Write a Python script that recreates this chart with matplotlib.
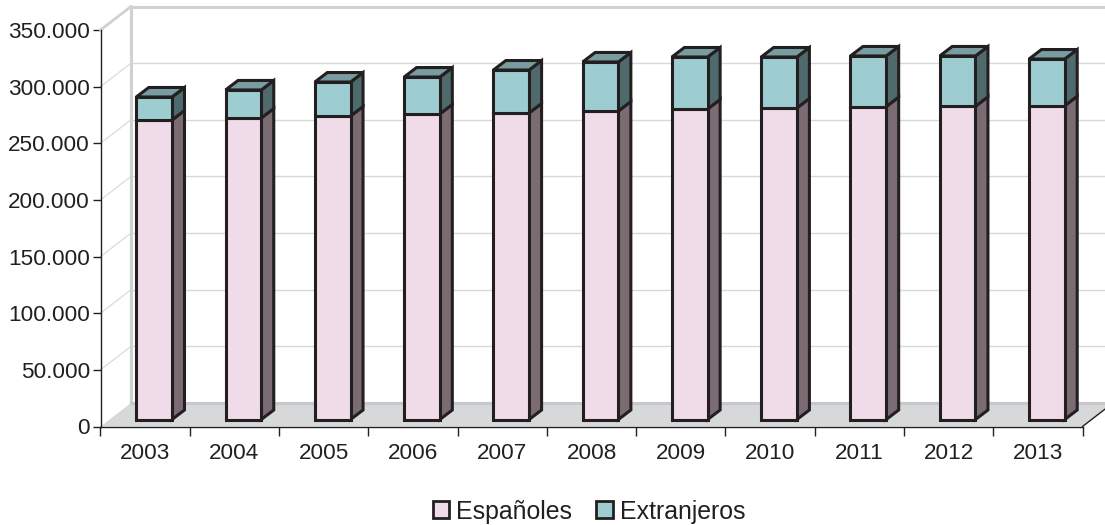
import matplotlib
matplotlib.use('Agg')
import matplotlib.pyplot as plt
from matplotlib.patches import Patch
from matplotlib.transforms import Affine2D

years = ['2003', '2004', '2005', '2006', '2007', '2008', '2009', '2010', '2011', '2012', '2013']
espanoles = [264400, 266200, 267900, 269700, 270600, 272300, 274100, 275000, 276200, 276500, 277000]
extranjeros = [20300, 24700, 30000, 32600, 37900, 43300, 45900, 45000, 44700, 44400, 41200]
yticks = [0, 50000, 100000, 150000, 200000, 250000, 300000, 350000]
ylabels = ['0', '50.000', '100.000', '150.000', '200.000', '250.000', '300.000', '350.000']

plt.rcParams['font.family'] = ['Liberation Sans', 'DejaVu Sans']
dark = '#231f20'
grid = '#d6d8d9'

fig = plt.figure(figsize=(11.05, 5.25), dpi=100)
ax = fig.add_axes([100.5 / 1105, (525 - 426.5) / 525, 982 / 1105, 396.5 / 525])
ax.set_xlim(-0.5, 10.5)
ax.set_ylim(0, 350000)
ax.patch.set_visible(False)

def shift(dx, dy):  # same data scale, moved by some pixels (the fake 3D depth)
    return ax.transData + Affine2D().translate(dx, dy)

# depth of the box in data units
x_floor = 30.5 / 89.27
y_floor = 23.5 * 350000 / 396.5

# back wall and floor
back = shift(30.5, 23.5)
for t in yticks[1:-1]:
    ax.plot([-0.5, 10.5], [t, t], color=grid, lw=1, transform=back, clip_on=False, zorder=1)
    ax.plot([-0.5, -0.5 + x_floor], [t, t + y_floor], color=grid, lw=0.8, clip_on=False, zorder=1)
ax.plot([-0.5, -0.5], [0, 350000], color='#cfd1d2', lw=2.2, transform=back, clip_on=False, zorder=2)
ax.plot([-0.5, 10.5], [350000, 350000], color='#cfd1d2', lw=2.2, transform=back, clip_on=False, zorder=2)
ax.plot([-0.5, -0.5 + x_floor], [350000, 350000 + y_floor], color='#cfd1d2', lw=2, clip_on=False, zorder=2)

ax.fill([-0.5, 10.5, 10.5 + x_floor, -0.5 + x_floor], [0, 0, y_floor, y_floor],
        color='#d6d8d9', lw=0, clip_on=False, zorder=1.5)
ax.plot([-0.5 + x_floor, 10.5 + x_floor], [y_floor, y_floor], color='#c6c8c9', lw=2.2,
        clip_on=False, zorder=2)
ax.plot([10.5, 10.5 + x_floor], [0, y_floor], color=dark, lw=1, clip_on=False, zorder=2)

# bars
front = shift(9, 7)
width = 0.4
depth_x = 12.5 / 89.27
depth_y = 9.5 * 350000 / 396.5
edge = dict(edgecolor=dark, linewidth=2.2, joinstyle='miter', clip_on=False, transform=front)

for i, year in enumerate(years):
    x0 = i - width / 2
    x1 = i + width / 2
    low = espanoles[i]
    top = low + extranjeros[i]
    ax.fill([x1, x1 + depth_x, x1 + depth_x, x1], [0, depth_y, low + depth_y, low],
            facecolor='#7b6c74', zorder=3, **edge)
    ax.fill([x1, x1 + depth_x, x1 + depth_x, x1], [low, low + depth_y, top + depth_y, top],
            facecolor='#4f6a6d', zorder=3, **edge)
    ax.fill([x0, x1, x1 + depth_x, x0 + depth_x], [top, top, top + depth_y, top + depth_y],
            facecolor='#789c9f', zorder=3, **edge)

ax.bar(range(len(years)), espanoles, width=width, color='#f0dce8', zorder=4, **edge)
ax.bar(range(len(years)), extranjeros, width=width, bottom=espanoles, color='#9dcdd1', zorder=4, **edge)

# axes
for s in ['top', 'right']:
    ax.spines[s].set_visible(False)
for s in ['left', 'bottom']:
    ax.spines[s].set_color(dark)
    ax.spines[s].set_linewidth(1)
    ax.spines[s].set_zorder(5)

ax.set_yticks(yticks)
ax.set_yticklabels(ylabels)
ax.set_xticks([i - 0.5 for i in range(12)])
ax.set_xticklabels([])
ax.set_xticks(range(len(years)), years, minor=True)
ax.tick_params(axis='y', length=6, width=1, color=dark, labelsize=16.2, labelcolor=dark, pad=1.5)
ax.tick_params(axis='x', which='major', length=6.5, width=1, color=dark)
ax.tick_params(axis='x', which='minor', length=0, labelsize=16.2, labelcolor=dark, pad=12)

handles = [Patch(facecolor='#f0dce8', edgecolor=dark, linewidth=2, label='Españoles'),
           Patch(facecolor='#9dcdd1', edgecolor=dark, linewidth=2, label='Extranjeros')]
fig.legend(handles=handles, loc='center', bbox_to_anchor=(589 / 1105, 1 - 511.5 / 525), ncol=2,
           frameon=False, fontsize=17.9, labelcolor=dark, handlelength=0.66, handleheight=0.66,
           handletextpad=0.28, columnspacing=0.98, borderpad=0)

fig.savefig('out.png', dpi=100)
